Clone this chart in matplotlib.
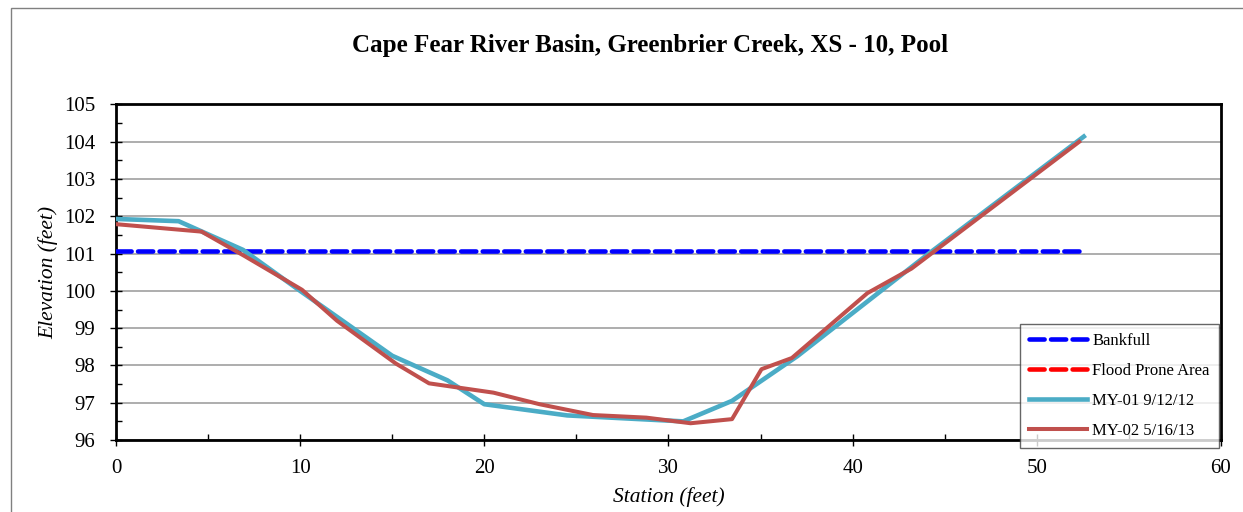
import matplotlib
matplotlib.use('Agg')
import matplotlib.pyplot as plt
from matplotlib.patches import Rectangle
from matplotlib.ticker import MultipleLocator

# Datos
station_my01 = [0, 3.4, 6.9, 10.0, 15.0, 18.0, 20.0, 24.5, 30.8, 33.45, 37.0, 44.0, 52.55]
elev_my01 = [101.93, 101.87, 101.1, 100.0, 98.26, 97.6, 96.96, 96.66, 96.5, 97.05, 98.25, 100.95, 104.14]

station_my02 = [0, 4.65, 7.0, 10.1, 12.0, 15.2, 17.0, 20.5, 23.0, 25.9, 28.8, 31.2, 33.45,
                35.05, 36.7, 40.8, 43.2, 52.3]
elev_my02 = [101.79, 101.59, 100.93, 100.03, 99.2, 98.05, 97.52, 97.27, 96.96, 96.67, 96.6,
             96.45, 96.56, 97.9, 98.2, 99.94, 100.6, 104.0]

bankfull_station = [0, 52.3]
bankfull_elev = [101.08, 101.08]

titulo = 'Cape Fear River Basin, Greenbrier Creek, XS - 10, Pool'

plt.rcParams['font.family'] = ['Liberation Serif', 'DejaVu Serif']

fig = plt.figure(figsize=(12.43, 5.12), dpi=100)
ax = fig.add_axes([0.0933, 0.1406, 0.8890, 0.6553])

# Marco exterior del gráfico
fig.patches.append(Rectangle((11 / 1243, -0.2), 2, 1.2 - 8 / 512, transform=fig.transFigure,
                             fill=False, edgecolor='#808080', linewidth=1.0))

ax.plot(bankfull_station, bankfull_elev, color='#0000ff', linewidth=3.3,
        linestyle=(0, (3.3, 1.4)), dash_capstyle='round', label='Bankfull', zorder=3)
ax.plot([], [], color='#ff0000', linewidth=3.3, linestyle=(0, (3.3, 1.4)),
        dash_capstyle='round', label='Flood Prone Area')
ax.plot(station_my01, elev_my01, color='#4bacc6', linewidth=3.3, label='MY-01 9/12/12', zorder=4)
ax.plot(station_my02, elev_my02, color='#c0504d', linewidth=2.9, label='MY-02 5/16/13', zorder=5)

ax.set_xlim(0, 60)
ax.set_ylim(96, 105)
ax.xaxis.set_major_locator(MultipleLocator(10))
ax.xaxis.set_minor_locator(MultipleLocator(5))
ax.yaxis.set_major_locator(MultipleLocator(1))
ax.yaxis.set_minor_locator(MultipleLocator(0.5))
ax.tick_params(which='major', direction='inout', length=8, width=1, labelsize=15)
ax.tick_params(axis='y', which='major', pad=11)
ax.tick_params(axis='x', which='major', pad=10)
ax.tick_params(which='minor', direction='in', length=4, width=1)
ax.grid(axis='y', which='major', color='#a0a0a0', linewidth=1.2)
ax.set_axisbelow(True)
for s in ax.spines.values():
    s.set_linewidth(2)
    s.set_color('black')

ax.set_xlabel('Station (feet)', fontsize=15.5, style='italic', labelpad=6)
ax.set_ylabel('Elevation (feet)', fontsize=15.5, style='italic', labelpad=4)

fig.text(0.523, 0.911, titulo, ha='center', va='center', fontsize=18, fontweight='bold')

leg = ax.legend(loc='lower right', bbox_to_anchor=(0.9982, -0.025), fontsize=12, frameon=True,
                fancybox=False, edgecolor='#404040', handlelength=3.5, labelspacing=0.85,
                borderpad=0.55, handletextpad=0.3, borderaxespad=0)
leg.get_frame().set_linewidth(1.0)
leg.set_zorder(10)

fig.savefig('out.png', dpi=100)
